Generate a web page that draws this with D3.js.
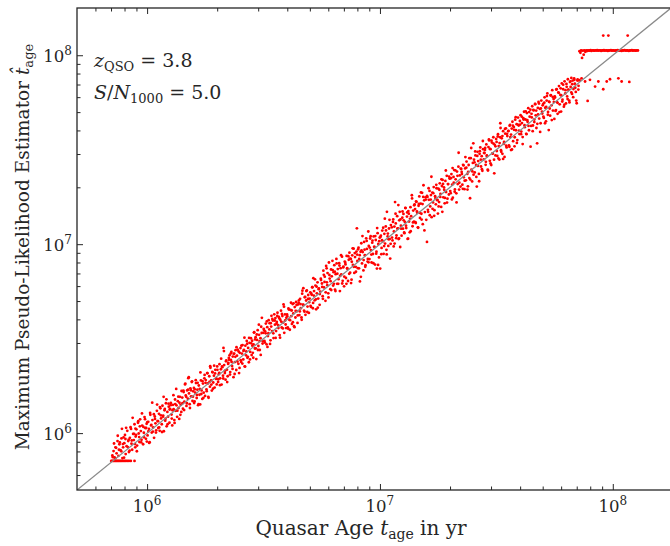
<!DOCTYPE html>
<html>
<head>
<meta charset="utf-8">
<script src="https://cdn.jsdelivr.net/npm/d3@7"></script>
<style>
  body { margin: 0; background: #fff; }
  svg { display: block; }
  text { font-family: "DejaVu Serif", "Liberation Serif", serif; fill: #262626; }
</style>
</head>
<body>
<div id="chart"></div>
<script>
// Values are log10(years): [true quasar age, maximum pseudo-likelihood estimate]
const majorTicks = [1e6, 1e7, 1e8];
const axisDomain = [5e5, Math.pow(10, 8.25)];

// estimates pinned to the lower edge of the model grid
const floorRow = [[5.846,5.853],[5.850,5.853],[5.855,5.853],[5.859,5.853],[5.864,5.853],[5.868,5.853],[5.873,5.853],[5.877,5.853],[5.882,5.853],[5.887,5.853],[5.892,5.853],[5.897,5.853],[5.903,5.853],[5.909,5.853],[5.915,5.853],[5.922,5.853],[5.930,5.853],[5.946,5.853]];

// estimates pinned to the upper edge of the model grid
const capRow = [[7.857,8.021],[7.861,8.013],[7.864,8.025],[7.868,7.986],[7.871,8.024],[7.875,8.003],[7.878,8.026],[7.882,8.018],[7.886,8.025],[7.889,8.022],[7.893,8.026],[7.897,8.024],[7.901,8.025],[7.905,8.027],[7.908,8.023],[7.913,8.026],[7.917,8.025],[7.921,8.024],[7.925,8.026],[7.929,8.025],[7.933,8.027],[7.937,8.024],[7.941,8.026],[7.946,8.025],[7.950,8.023],[7.954,8.026],[7.958,8.025],[7.962,8.027],[7.966,8.024],[7.971,8.026],[7.975,8.025],[7.979,8.023],[7.983,8.026],[7.987,8.025],[7.992,8.027],[7.996,8.024],[8.000,8.026],[8.004,8.025],[8.009,8.024],[8.013,8.026],[8.017,8.025],[8.021,8.027],[8.026,8.024],[8.030,8.026],[8.034,8.025],[8.038,8.023],[8.043,8.026],[8.047,8.025],[8.051,8.027],[8.056,8.024],[8.060,8.026],[8.064,8.025],[8.069,8.023],[8.073,8.026],[8.077,8.025],[8.082,8.027],[8.086,8.024],[8.090,8.026],[8.095,8.025],[8.099,8.024],[8.103,8.026],[8.108,8.025]];

const capOutliers = [[7.959,8.104],[7.981,8.104],[8.064,8.104],[7.866,7.878],[7.881,7.861],[7.892,7.758],[7.902,7.870],[7.924,7.834],[7.938,7.861],[7.959,7.820],[7.974,7.861],[7.988,7.873],[8.024,7.878],[8.038,7.861],[8.071,7.859]];

// main cloud along the diagonal
const band = [
[5.851,5.882],[5.856,5.905],[5.860,5.871],[5.864,5.925],[5.869,5.893],[5.873,5.958],[5.877,5.880],[5.881,5.941],[5.886,5.910],[5.890,5.972],[5.894,5.868],[5.897,5.925],
[5.902,5.947],[5.905,5.990],[5.908,5.889],[5.912,5.931],[5.915,6.012],[5.919,5.958],[5.922,5.900],[5.926,5.975],[5.929,6.031],[5.933,5.944],[5.936,5.912],[5.940,5.996],[5.943,5.963],[5.946,6.047],[5.949,5.925],
[5.951,5.982],[5.954,6.020],[5.957,5.934],[5.961,6.055],[5.964,5.998],[5.967,5.953],[5.970,6.073],[5.973,6.011],[5.976,5.965],[5.979,6.040],[5.983,5.941],[5.986,6.002],[5.989,6.085],[5.992,6.027],[5.995,5.970],[5.998,6.049],
[6.002,5.988],[6.005,6.060],[6.008,6.023],[6.011,5.952],[6.014,6.097],[6.017,6.041],[6.020,6.003],[6.023,6.069],[6.026,6.030],[6.030,5.975],[6.033,6.088],[6.036,6.052],[6.039,6.015],[6.042,6.118],[6.045,6.064],[6.048,6.027],
[6.051,6.102],[6.054,6.012],[6.057,6.131],[6.060,6.078],[6.063,6.047],[6.066,6.145],[6.069,6.093],[6.072,6.010],[6.075,6.121],[6.078,6.066],[6.081,6.158],[6.084,6.036],[6.087,6.112],[6.090,6.087],[6.093,6.140],[6.096,6.055],[6.099,6.128],
[6.102,6.160],[6.105,6.098],[6.108,6.041],[6.111,6.150],[6.114,6.127],[6.117,6.069],[6.120,6.178],[6.123,6.118],[6.126,6.147],[6.129,6.086],[6.132,6.169],[6.135,6.133],[6.138,6.075],[6.141,6.192],[6.144,6.150],[6.147,6.112],
[6.151,6.188],[6.154,6.129],[6.157,6.217],[6.160,6.166],[6.163,6.258],[6.166,6.199],[6.169,6.144],[6.172,6.226],[6.175,6.182],[6.177,6.291],[6.180,6.210],[6.183,6.153],[6.186,6.237],[6.189,6.195],[6.192,6.270],[6.195,6.170],[6.198,6.221],
[6.201,6.239],[6.204,6.168],[6.207,6.214],[6.210,6.265],[6.213,6.186],[6.216,6.230],[6.219,6.148],[6.222,6.252],[6.225,6.203],[6.228,6.152],[6.231,6.279],[6.234,6.226],[6.237,6.181],[6.240,6.262],[6.243,6.214],[6.246,6.290],[6.249,6.197],
[6.252,6.281],[6.255,6.232],[6.258,6.318],[6.261,6.263],[6.264,6.187],[6.267,6.301],[6.270,6.246],[6.272,6.346],[6.275,6.279],[6.278,6.225],[6.281,6.322],[6.284,6.268],[6.287,6.304],[6.290,6.241],[6.293,6.335],[6.296,6.287],[6.299,6.258],
[6.302,6.335],[6.305,6.271],[6.308,6.312],[6.311,6.365],[6.314,6.290],[6.317,6.338],[6.320,6.257],[6.323,6.349],[6.326,6.304],[6.328,6.451],[6.331,6.360],[6.334,6.318],[6.337,6.283],[6.340,6.385],[6.343,6.336],[6.346,6.301],[6.349,6.372],
[6.351,6.398],[6.354,6.412],[6.357,6.323],[6.360,6.387],[6.362,6.430],[6.365,6.355],[6.368,6.405],[6.371,6.296],[6.374,6.421],[6.377,6.376],[6.380,6.439],[6.383,6.334],[6.386,6.410],[6.389,6.442],[6.392,6.367],[6.395,6.318],[6.398,6.425],
[6.401,6.450],[6.404,6.377],[6.407,6.421],[6.410,6.466],[6.413,6.390],[6.416,6.441],[6.419,6.353],[6.422,6.463],[6.425,6.412],[6.428,6.488],[6.431,6.399],[6.434,6.451],[6.437,6.375],[6.440,6.478],[6.443,6.430],[6.446,6.502],[6.449,6.413],
[6.451,6.489],[6.454,6.425],[6.457,6.470],[6.460,6.534],[6.463,6.448],[6.466,6.508],[6.469,6.392],[6.472,6.493],[6.475,6.545],[6.478,6.461],[6.481,6.520],[6.484,6.440],[6.487,6.502],[6.490,6.563],[6.493,6.610],[6.496,6.474],[6.499,6.531],
[6.501,6.552],[6.504,6.488],[6.507,6.539],[6.510,6.580],[6.513,6.470],[6.516,6.561],[6.519,6.514],[6.522,6.598],[6.525,6.549],[6.528,6.472],[6.531,6.582],[6.534,6.621],[6.537,6.540],[6.540,6.596],[6.543,6.503],[6.546,6.629],[6.549,6.574],
[6.551,6.609],[6.554,6.540],[6.557,6.588],[6.560,6.637],[6.563,6.571],[6.566,6.615],[6.569,6.519],[6.572,6.600],[6.575,6.648],[6.578,6.559],[6.581,6.620],[6.584,6.585],[6.586,6.681],[6.589,6.531],[6.592,6.628],[6.595,6.575],[6.598,6.610],
[6.601,6.628],[6.604,6.559],[6.607,6.660],[6.610,6.601],[6.613,6.547],[6.616,6.652],[6.619,6.619],[6.622,6.578],[6.625,6.683],[6.628,6.633],[6.631,6.566],[6.634,6.667],[6.637,6.612],[6.640,6.694],[6.643,6.645],[6.646,6.583],[6.649,6.681],
[6.651,6.690],[6.654,6.625],[6.657,6.711],[6.660,6.661],[6.663,6.612],[6.666,6.738],[6.669,6.680],[6.671,6.767],[6.674,6.648],[6.677,6.719],[6.680,6.626],[6.683,6.702],[6.686,6.755],[6.689,6.670],[6.692,6.731],[6.695,6.636],[6.698,6.712],
[6.701,6.745],[6.704,6.668],[6.707,6.732],[6.710,6.772],[6.713,6.689],[6.714,6.820],[6.717,6.752],[6.720,6.703],[6.723,6.781],[6.726,6.655],[6.729,6.740],[6.732,6.798],[6.735,6.712],[6.738,6.766],[6.741,6.679],[6.744,6.749],[6.747,6.810],
[6.751,6.792],[6.754,6.725],[6.757,6.860],[6.760,6.771],[6.763,6.828],[6.766,6.700],[6.769,6.885],[6.772,6.798],[6.775,6.847],[6.778,6.740],[6.781,6.903],[6.784,6.818],[6.787,6.762],[6.790,6.866],[6.793,6.830],[6.796,6.912],[6.799,6.781],
[6.801,6.852],[6.804,6.889],[6.807,6.760],[6.810,6.841],[6.813,6.922],[6.816,6.790],[6.819,6.868],[6.822,6.815],[6.825,6.899],[6.828,6.752],[6.831,6.873],[6.834,6.840],[6.837,6.934],[6.840,6.806],[6.843,6.881],[6.846,6.777],[6.849,6.908],
[6.851,6.902],[6.854,6.821],[6.857,6.938],[6.860,6.870],[6.863,6.805],[6.866,6.917],[6.869,6.955],[6.872,6.849],[6.875,6.922],[6.878,6.812],[6.881,6.941],[6.884,6.890],[6.887,6.976],[6.890,6.848],[6.893,6.932],[6.896,6.880],[6.899,6.961],[6.901,7.084],
[6.902,6.945],[6.905,6.873],[6.908,6.981],[6.911,6.922],[6.914,6.803],[6.917,6.960],[6.920,7.005],[6.923,6.898],[6.926,6.958],[6.929,6.861],[6.932,7.012],[6.935,6.942],[6.938,6.889],[6.941,7.031],[6.944,6.975],[6.947,6.908],[6.950,7.067],
[6.952,6.991],[6.955,6.921],[6.958,7.030],[6.961,6.969],[6.964,6.903],[6.967,7.008],[6.970,6.948],[6.973,7.041],[6.976,6.985],[6.979,6.892],[6.982,7.022],[6.985,6.960],[6.987,6.871],[6.990,7.058],[6.993,7.001],[6.996,6.930],[6.999,7.035],
[7.001,6.871],[7.004,7.045],[7.007,6.980],[7.010,7.072],[7.013,7.015],[7.016,6.949],[7.019,7.055],[7.022,7.003],[7.025,7.094],[7.028,6.970],[7.030,7.171],[7.033,7.041],[7.036,6.991],[7.039,7.083],[7.042,7.027],[7.044,6.924],[7.047,7.101],
[7.051,7.089],[7.054,7.020],[7.057,7.131],[7.060,7.067],[7.063,7.003],[7.065,7.223],[7.068,7.110],[7.071,7.046],[7.074,7.148],[7.077,7.084],[7.080,7.027],[7.083,7.126],[7.085,7.171],[7.087,6.985],[7.090,7.098],[7.093,7.045],[7.096,7.140],[7.099,7.082],
[7.101,7.160],[7.104,7.062],[7.107,7.118],[7.110,7.191],[7.113,7.085],[7.116,7.146],[7.119,7.028],[7.122,7.175],[7.125,7.120],[7.128,7.063],[7.131,7.196],[7.134,7.148],[7.137,7.259],[7.140,7.095],[7.143,7.178],[7.146,7.119],[7.149,7.210],
[7.151,7.186],[7.154,7.112],[7.157,7.224],[7.160,7.166],[7.163,7.089],[7.166,7.203],[7.169,7.253],[7.172,7.139],[7.175,7.215],[7.178,7.161],[7.181,7.272],[7.184,7.106],[7.187,7.312],[7.190,7.232],[7.193,7.170],[7.196,7.248],[7.199,7.129],[7.202,7.012],
[7.204,7.250],[7.207,7.171],[7.210,7.235],[7.213,7.282],[7.216,7.200],[7.219,7.260],[7.222,7.143],[7.225,7.273],[7.228,7.221],[7.231,7.302],[7.234,7.180],[7.237,7.254],[7.240,7.211],[7.243,7.296],[7.246,7.233],[7.249,7.162],
[7.251,7.294],[7.254,7.223],[7.257,7.322],[7.260,7.266],[7.263,7.197],[7.266,7.308],[7.269,7.340],[7.272,7.248],[7.275,7.301],[7.278,7.216],[7.281,7.335],[7.284,7.276],[7.287,7.362],[7.290,7.241],[7.293,7.318],[7.296,7.263],[7.299,7.347],
[7.301,7.348],[7.304,7.270],[7.307,7.371],[7.310,7.315],[7.313,7.246],[7.316,7.356],[7.319,7.392],[7.322,7.290],[7.325,7.343],[7.328,7.269],[7.331,7.384],[7.334,7.318],[7.337,7.410],[7.340,7.289],[7.343,7.364],[7.346,7.305],[7.349,7.398],
[7.351,7.382],[7.354,7.315],[7.357,7.420],[7.360,7.354],[7.363,7.291],[7.366,7.401],[7.369,7.338],[7.372,7.437],[7.375,7.372],[7.378,7.306],[7.381,7.419],[7.384,7.350],[7.387,7.243],[7.390,7.455],[7.393,7.394],[7.396,7.332],[7.399,7.430],
[7.401,7.534],[7.404,7.447],[7.407,7.380],[7.410,7.470],[7.413,7.419],[7.416,7.305],[7.419,7.489],[7.422,7.440],[7.425,7.372],[7.428,7.478],[7.431,7.512],[7.434,7.411],[7.437,7.466],[7.440,7.388],[7.443,7.503],[7.446,7.449],[7.449,7.482],
[7.451,7.498],[7.454,7.420],[7.457,7.528],[7.460,7.466],[7.463,7.395],[7.466,7.514],[7.469,7.549],[7.472,7.441],[7.475,7.503],[7.478,7.419],[7.481,7.538],[7.484,7.480],[7.487,7.566],[7.490,7.447],[7.493,7.526],[7.496,7.470],[7.499,7.557],
[7.501,7.541],[7.504,7.467],[7.507,7.582],[7.510,7.519],[7.513,7.448],[7.516,7.566],[7.517,7.640],[7.520,7.497],[7.523,7.560],[7.526,7.478],[7.529,7.598],[7.532,7.531],[7.535,7.462],[7.538,7.585],[7.541,7.613],[7.544,7.512],[7.547,7.572],
[7.551,7.598],[7.554,7.523],[7.557,7.627],[7.560,7.567],[7.563,7.498],[7.566,7.612],[7.569,7.648],[7.572,7.545],[7.575,7.620],[7.578,7.518],[7.581,7.659],[7.584,7.603],[7.587,7.635],[7.590,7.551],[7.593,7.670],[7.596,7.628],[7.599,7.583],
[7.601,7.652],[7.604,7.683],[7.607,7.596],[7.610,7.641],[7.613,7.567],[7.616,7.667],[7.619,7.701],[7.622,7.619],[7.625,7.660],[7.628,7.584],[7.631,7.694],[7.634,7.648],[7.637,7.720],[7.640,7.603],[7.643,7.675],[7.646,7.712],[7.649,7.626],
[7.651,7.690],[7.654,7.730],[7.657,7.628],[7.660,7.708],[7.663,7.660],[7.666,7.742],[7.669,7.682],[7.672,7.615],[7.675,7.534],[7.678,7.721],[7.681,7.753],[7.684,7.665],[7.687,7.716],[7.690,7.640],[7.693,7.760],[7.696,7.701],[7.699,7.735],
[7.701,7.742],[7.704,7.668],[7.707,7.777],[7.710,7.722],[7.713,7.650],[7.716,7.760],[7.719,7.798],[7.722,7.700],[7.725,7.604],[7.728,7.752],[7.731,7.680],[7.734,7.789],[7.737,7.735],[7.740,7.815],[7.743,7.707],[7.746,7.768],[7.749,7.663],
[7.751,7.782],[7.754,7.705],[7.757,7.818],[7.760,7.752],[7.763,7.690],[7.766,7.803],[7.769,7.837],[7.772,7.740],[7.775,7.790],[7.778,7.702],[7.781,7.851],[7.784,7.765],[7.787,7.820],[7.790,7.728],[7.793,7.862],[7.796,7.798],[7.799,7.745],
[7.801,7.848],[7.804,7.782],[7.807,7.873],[7.810,7.817],[7.813,7.760],[7.816,7.858],[7.819,7.832],[7.822,7.880],[7.825,7.795],[7.828,7.866],[7.831,7.821],[7.834,7.877],[7.837,7.849],[7.841,7.806],[7.845,7.746],[7.849,7.872],[7.853,7.838],[7.857,7.868]
];

const bandExtra = [
[5.852,5.873],[5.858,5.945],[5.863,5.867],[5.867,5.922],[5.874,5.986],[5.879,5.912],[5.883,5.951],[5.889,5.904],[5.892,6.023],[5.896,5.942],[5.899,5.977],
[5.901,5.870],[5.907,5.969],[5.910,6.028],[5.917,5.926],[5.921,5.965],[5.925,5.907],[5.931,6.022],[5.934,5.961],[5.938,6.081],[5.944,5.996],[5.948,5.942],[5.950,6.024],
[5.953,5.991],[5.956,5.904],[5.962,6.063],[5.966,5.979],[5.969,6.036],[5.975,5.951],[5.978,6.104],[5.984,6.033],[5.987,5.978],[5.991,6.074],[5.996,6.027],[5.999,5.955],
[6.001,6.058],[6.006,6.010],[6.009,5.948],[6.013,6.107],[6.018,6.044],[6.022,6.161],[6.025,6.008],[6.029,6.100],[6.034,6.075],[6.038,6.003],[6.043,6.151],[6.047,6.063],
[6.052,6.030],[6.055,6.138],[6.059,6.094],[6.064,6.006],[6.068,6.087],[6.071,6.192],[6.076,6.128],[6.079,6.076],[6.083,6.179],[6.088,6.047],[6.092,6.156],[6.097,6.125],
[6.101,6.148],[6.106,6.077],[6.109,6.121],[6.113,6.201],[6.118,6.054],[6.121,6.154],[6.125,6.234],[6.130,6.119],[6.134,6.193],[6.139,6.161],[6.143,6.097],[6.148,6.223],
[6.152,6.158],[6.156,6.225],[6.159,6.122],[6.164,6.262],[6.168,6.192],[6.171,6.158],[6.176,6.230],[6.179,6.296],[6.184,6.133],[6.188,6.227],[6.193,6.274],[6.197,6.193],
[6.202,6.159],[6.205,6.232],[6.209,6.280],[6.214,6.202],[6.217,6.266],[6.221,6.153],[6.226,6.234],[6.229,6.321],[6.233,6.207],[6.238,6.275],[6.242,6.187],[6.247,6.308],
[6.251,6.266],[6.256,6.222],[6.259,6.317],[6.263,6.192],[6.268,6.271],[6.271,6.354],[6.276,6.257],[6.280,6.324],[6.283,6.235],[6.288,6.357],[6.292,6.316],[6.297,6.290],
[6.301,6.353],[6.306,6.285],[6.310,6.319],[6.313,6.254],[6.318,6.394],[6.322,6.353],[6.327,6.289],[6.330,6.434],[6.335,6.330],[6.339,6.380],[6.344,6.270],[6.348,6.366],
[6.352,6.388],[6.356,6.310],[6.359,6.421],[6.363,6.377],[6.367,6.340],[6.372,6.419],[6.376,6.313],[6.379,6.404],[6.384,6.455],[6.388,6.379],[6.393,6.432],[6.397,6.345],
[6.402,6.386],[6.405,6.463],[6.409,6.368],[6.414,6.435],[6.418,6.505],[6.421,6.352],[6.426,6.432],[6.430,6.473],[6.433,6.404],[6.438,6.504],[6.442,6.390],[6.447,6.475],
[6.452,6.463],[6.456,6.399],[6.459,6.532],[6.464,6.496],[6.467,6.449],[6.471,6.522],[6.476,6.440],[6.480,6.574],[6.483,6.487],[6.488,6.414],[6.492,6.530],[6.497,6.486],
[6.502,6.546],[6.506,6.479],[6.509,6.528],[6.514,6.591],[6.517,6.456],[6.521,6.529],[6.526,6.582],[6.530,6.491],[6.533,6.564],[6.538,6.604],[6.542,6.528],[6.548,6.596],
[6.552,6.504],[6.556,6.579],[6.559,6.620],[6.564,6.556],[6.568,6.607],[6.571,6.505],[6.576,6.590],[6.579,6.631],[6.583,6.554],[6.588,6.669],[6.593,6.596],[6.597,6.556],
[6.602,6.619],[6.606,6.553],[6.609,6.654],[6.614,6.598],[6.618,6.690],[6.621,6.649],[6.626,6.587],[6.629,6.687],[6.633,6.561],[6.638,6.647],[6.642,6.678],[6.647,6.623],
[6.652,6.703],[6.656,6.644],[6.659,6.683],[6.664,6.600],[6.667,6.754],[6.672,6.678],[6.676,6.643],[6.679,6.721],[6.684,6.752],[6.688,6.641],[6.691,6.710],[6.696,6.693],
[6.702,6.673],[6.705,6.739],[6.709,6.772],[6.712,6.661],[6.716,6.728],[6.721,6.814],[6.725,6.708],[6.728,6.775],[6.733,6.664],[6.737,6.762],[6.742,6.736],[6.746,6.817],
[6.752,6.774],[6.755,6.711],[6.759,6.838],[6.762,6.800],[6.767,6.745],[6.771,6.872],[6.774,6.783],[6.779,6.718],[6.783,6.837],[6.788,6.804],[6.791,6.757],[6.797,6.863],
[6.802,6.790],[6.806,6.854],[6.809,6.752],[6.814,6.898],[6.817,6.844],[6.821,6.790],[6.826,6.887],[6.829,6.832],[6.833,6.942],[6.838,6.792],[6.842,6.877],[6.847,6.828],
[6.852,6.893],[6.856,6.790],[6.859,6.873],[6.864,6.936],[6.868,6.843],[6.871,6.924],[6.876,6.794],[6.879,6.907],[6.883,6.978],[6.888,6.880],[6.892,6.953],[6.897,6.854],
[6.903,6.911],[6.906,6.973],[6.910,6.872],[6.913,6.942],[6.918,6.827],[6.921,6.967],[6.925,7.043],[6.930,6.916],[6.934,6.971],[6.937,6.880],[6.943,7.017],[6.948,6.922],
[6.951,6.904],[6.956,6.982],[6.960,7.042],[6.963,6.945],[6.968,7.019],[6.972,6.899],[6.975,6.986],[6.980,7.043],[6.984,6.950],[6.988,7.085],[6.992,6.890],[6.997,7.016],
[7.002,7.038],[7.006,6.947],[7.009,7.021],[7.014,7.087],[7.018,6.990],[7.021,7.135],[7.026,7.073],[7.029,6.946],[7.034,7.056],[7.037,7.026],[7.041,7.129],[7.046,7.002],
[7.052,7.035],[7.056,7.118],[7.059,6.988],[7.062,7.093],[7.067,7.161],[7.070,7.032],[7.075,7.082],[7.079,7.207],[7.082,7.030],[7.088,7.131],[7.091,7.082],[7.097,7.173],
[7.102,7.126],[7.105,7.058],[7.109,7.192],[7.112,7.098],[7.117,7.168],[7.121,7.029],[7.124,7.161],[7.129,7.134],[7.132,7.069],[7.138,7.242],[7.142,7.115],[7.147,7.206],
[7.152,7.116],[7.155,7.226],[7.159,7.173],[7.164,7.087],[7.167,7.213],[7.171,7.166],[7.176,7.274],[7.179,7.130],[7.183,7.212],[7.186,7.250],[7.191,7.073],[7.197,7.236],
[7.202,7.255],[7.206,7.182],[7.209,7.296],[7.214,7.153],[7.218,7.236],[7.221,7.357],[7.226,7.187],[7.229,7.270],[7.233,7.150],[7.238,7.244],[7.242,7.314],[7.247,7.234],
[7.252,7.200],[7.255,7.288],[7.259,7.250],[7.264,7.343],[7.268,7.171],[7.271,7.319],[7.276,7.288],[7.279,7.245],[7.283,7.390],[7.288,7.220],[7.292,7.318],[7.297,7.358],
[7.302,7.281],[7.306,7.350],[7.309,7.237],[7.312,7.403],[7.317,7.325],[7.321,7.278],[7.324,7.391],[7.329,7.221],[7.333,7.362],[7.338,7.484],[7.341,7.325],[7.347,7.400],
[7.352,7.371],[7.356,7.293],[7.359,7.417],[7.364,7.336],[7.367,7.461],[7.371,7.405],[7.376,7.289],[7.379,7.382],[7.384,7.455],[7.388,7.342],[7.392,7.509],[7.397,7.385],
[7.402,7.368],[7.406,7.433],[7.409,7.491],[7.414,7.356],[7.418,7.467],[7.421,7.414],[7.426,7.333],[7.429,7.492],[7.433,7.447],[7.438,7.397],[7.442,7.546],[7.447,7.483],
[7.452,7.509],[7.455,7.436],[7.459,7.470],[7.464,7.390],[7.468,7.554],[7.472,7.504],[7.475,7.427],[7.479,7.548],[7.484,7.480],[7.488,7.532],[7.491,7.375],[7.496,7.518],
[7.502,7.493],[7.506,7.570],[7.509,7.454],[7.514,7.535],[7.518,7.615],[7.521,7.489],[7.526,7.572],[7.529,7.451],[7.533,7.541],[7.537,7.610],[7.542,7.521],[7.546,7.584],
[7.552,7.600],[7.556,7.515],[7.559,7.631],[7.563,7.580],[7.567,7.501],[7.571,7.627],[7.576,7.605],[7.579,7.566],[7.583,7.672],[7.588,7.536],[7.592,7.633],[7.597,7.601],
[7.602,7.633],[7.606,7.582],[7.609,7.675],[7.613,7.530],[7.617,7.660],[7.621,7.630],[7.626,7.703],[7.629,7.582],[7.633,7.657],[7.638,7.626],[7.641,7.699],[7.647,7.516],
[7.652,7.671],[7.656,7.598],[7.659,7.711],[7.663,7.646],[7.667,7.741],[7.671,7.707],[7.676,7.637],[7.679,7.687],[7.683,7.744],[7.688,7.594],[7.691,7.718],[7.697,7.691],
[7.702,7.675],[7.706,7.749],[7.709,7.640],[7.714,7.726],[7.717,7.784],[7.721,7.685],[7.726,7.754],[7.729,7.718],[7.733,7.787],[7.738,7.657],[7.742,7.779],[7.747,7.752],
[7.752,7.776],[7.756,7.710],[7.759,7.820],[7.763,7.748],[7.768,7.801],[7.771,7.699],[7.776,7.825],[7.779,7.787],[7.783,7.755],[7.787,7.844],[7.792,7.738],[7.797,7.815],
[7.802,7.833],[7.806,7.768],[7.809,7.818],[7.814,7.750],[7.818,7.862],[7.822,7.803],[7.826,7.847],[7.830,7.778],[7.835,7.870],[7.839,7.828],[7.843,7.760],[7.848,7.866],[7.852,7.818],[7.855,7.867]
];

// chart size
const width = 670, height = 546;
const margin = {top: 8, right: -1, bottom: 56, left: 77};
const plotW = width - margin.left - margin.right;
const plotH = height - margin.top - margin.bottom;

const svg = d3.select("#chart").append("svg")
    .attr("width", width)
    .attr("height", height);

const x = d3.scaleLog().domain(axisDomain).range([margin.left, margin.left + plotW]);
const y = d3.scaleLog().domain(axisDomain).range([margin.top + plotH, margin.top]);

svg.append("clipPath").attr("id", "plotclip")
  .append("rect")
    .attr("x", margin.left).attr("y", margin.top)
    .attr("width", plotW).attr("height", plotH);

const plot = svg.append("g").attr("clip-path", "url(#plotclip)");

const allPoints = floorRow.concat(band, bandExtra, capRow, capOutliers);
plot.selectAll("circle.pt")
  .data(allPoints)
  .join("circle")
    .attr("class", "pt")
    .attr("cx", d => x(Math.pow(10, d[0])))
    .attr("cy", d => y(Math.pow(10, d[1])))
    .attr("r", 1.4)
    .attr("fill", "#ff0000");

// one-to-one line, drawn over the points
plot.append("line")
    .attr("x1", x(axisDomain[0])).attr("y1", y(axisDomain[0]))
    .attr("x2", x(axisDomain[1])).attr("y2", y(axisDomain[1]))
    .attr("stroke", "#8a8a8a")
    .attr("stroke-width", 1.3);

// minor tick positions 2..9 x decade inside the domain
const minorTicks = [];
for (let e = 5; e <= 8; e++) {
  for (let m = 2; m <= 9; m++) {
    const v = m * Math.pow(10, e);
    if (v > axisDomain[0] && v < axisDomain[1]) minorTicks.push(v);
  }
}

function tickAxis(axisFn, scale, pos, vals, size) {
  const g = svg.append("g")
      .attr("transform", pos)
      .call(axisFn(scale).tickValues(vals).tickSizeInner(-size).tickSizeOuter(0).tickFormat(""));
  g.select(".domain").remove();
  g.selectAll("line").attr("stroke", "#262626").attr("stroke-width", 1);
  return g;
}
const bottomY = margin.top + plotH;
tickAxis(d3.axisBottom, x, `translate(0,${bottomY})`, majorTicks, 6);
tickAxis(d3.axisBottom, x, `translate(0,${bottomY})`, minorTicks, 3.5);
tickAxis(d3.axisTop, x, `translate(0,${margin.top})`, majorTicks, 6);
tickAxis(d3.axisTop, x, `translate(0,${margin.top})`, minorTicks, 3.5);
tickAxis(d3.axisLeft, y, `translate(${margin.left},0)`, majorTicks, 6);
tickAxis(d3.axisLeft, y, `translate(${margin.left},0)`, minorTicks, 3.5);

// frame
svg.append("rect")
    .attr("x", margin.left).attr("y", margin.top)
    .attr("width", plotW).attr("height", plotH)
    .attr("fill", "none")
    .attr("stroke", "#262626")
    .attr("stroke-width", 1.3);

// tick labels 10^n
const tickFont = 16.5;
svg.selectAll("text.xtick")
  .data(majorTicks)
  .join("text")
    .attr("class", "xtick")
    .attr("x", d => x(d))
    .attr("y", bottomY + 22)
    .attr("text-anchor", "middle")
    .attr("font-size", tickFont)
    .each(function(d) {
      const t = d3.select(this);
      t.append("tspan").text("10");
      t.append("tspan").attr("dy", -7).attr("font-size", 12).text(Math.round(Math.log10(d)));
    });

svg.selectAll("text.ytick")
  .data(majorTicks)
  .join("text")
    .attr("class", "ytick")
    .attr("x", margin.left - 5)
    .attr("y", d => y(d) + 7)
    .attr("text-anchor", "end")
    .attr("font-size", tickFont)
    .each(function(d) {
      const t = d3.select(this);
      t.append("tspan").text("10");
      t.append("tspan").attr("dy", -7).attr("font-size", 12).text(Math.round(Math.log10(d)));
    });

// axis labels
const xl = svg.append("text")
    .attr("x", 361).attr("y", 535)
    .attr("text-anchor", "middle")
    .attr("font-size", 20);
xl.append("tspan").text("Quasar Age ");
xl.append("tspan").attr("font-style", "italic").text("t");
xl.append("tspan").attr("dy", 4).attr("font-size", 14).text("age");
xl.append("tspan").attr("dy", -4).text(" in yr");

const yl = svg.append("text")
    .attr("transform", "translate(29,247) rotate(-90)")
    .attr("text-anchor", "middle")
    .attr("font-size", 18.5);
yl.append("tspan").text("Maximum Pseudo-Likelihood Estimator ");
yl.append("tspan").attr("font-style", "italic").text("t\u0302");
yl.append("tspan").attr("dy", 4).attr("font-size", 13).text("age");

// annotation
const a1 = svg.append("text").attr("x", 94).attr("y", 67).attr("font-size", 19);
a1.append("tspan").attr("font-style", "italic").text("z");
a1.append("tspan").attr("dy", 4).attr("font-size", 13).text("QSO");
a1.append("tspan").attr("dy", -4).text(" = 3.8");

const a2 = svg.append("text").attr("x", 94).attr("y", 99).attr("font-size", 19);
a2.append("tspan").attr("font-style", "italic").text("S");
a2.append("tspan").text("/");
a2.append("tspan").attr("font-style", "italic").text("N");
a2.append("tspan").attr("dy", 4).attr("font-size", 13).text("1000");
a2.append("tspan").attr("dy", -4).text(" = 5.0");
</script>
</body>
</html>
